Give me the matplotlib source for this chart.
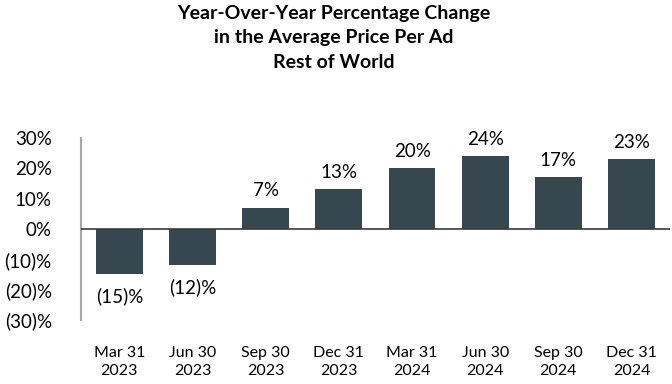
import numpy as np
import matplotlib.pyplot as plt

plt.rcParams['font.family'] = ['Lato', 'DejaVu Sans']

# Data
quarters = ["Mar 31\n2023", "Jun 30\n2023", "Sep 30\n2023", "Dec 31\n2023",
            "Mar 31\n2024", "Jun 30\n2024", "Sep 30\n2024", "Dec 31\n2024"]
values = [-15, -12, 7, 13, 20, 24, 17, 23]
yticks = [30, 20, 10, 0, -10, -20, -30]

bar_color = "#36474F"

def fmt(v):
    return f"({abs(v)})%" if v < 0 else f"{v}%"

fig = plt.figure(figsize=(6.72, 3.84), dpi=100)
ax = fig.add_axes([0.1205, 0.1667, 0.8765, 0.4743])

x = np.arange(len(values))
ax.bar(x, values, width=0.64, color=bar_color, zorder=2)

for xi, v in zip(x, values):
    if v >= 0:
        ax.annotate(fmt(v), (xi, v), xytext=(0, 6), textcoords="offset points",
                    ha="center", va="bottom", fontsize=13.5)
    else:
        ax.annotate(fmt(v), (xi, v), xytext=(0, -9), textcoords="offset points",
                    ha="center", va="top", fontsize=13.5)

ax.axhline(0, color="#3a3a3a", linewidth=1.2, zorder=3)

ax.set_xlim(-0.525, 7.525)
ax.set_ylim(-30, 30)
ax.set_yticks(yticks)
ax.set_yticklabels([fmt(t) for t in yticks], fontsize=13.5)
ax.set_xticks(x)
ax.set_xticklabels(quarters, fontsize=11.5, linespacing=1.35)
ax.tick_params(axis="y", length=0, pad=21)
ax.tick_params(axis="x", length=0, pad=19)

for s in ["top", "right", "bottom"]:
    ax.spines[s].set_visible(False)
ax.spines["left"].set_color("#a6a6a6")
ax.spines["left"].set_linewidth(1.5)

fig.text(0.497, 1 - 38 / 384,
         "Year-Over-Year Percentage Change\nin the Average Price Per Ad\nRest of World",
         ha="center", va="center", fontsize=14, fontweight="bold", linespacing=1.5)

fig.savefig("out.png", dpi=100)
